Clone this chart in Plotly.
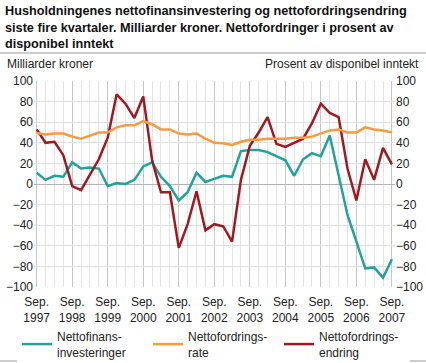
import plotly.graph_objects as go

quarters = list(range(41))  # Sep 1997 .. Sep 2007, quarterly
tick_pos = list(range(0, 41, 4))
tick_labels = [f"Sep.<br>{y}" for y in range(1997, 2008)]

nettofinans = [11, 4, 8, 7, 21, 15, 16, 15, -2, 1, 0, 4, 17, 21, 7, -2, -16, -8, 11, 2,
               5, 8, 7, 32, 33, 33, 31, 27, 23, 8, 24, 30, 27, 47, 10, -30, -56, -82, -81, -91, -73]
nettofordringsrate = [49.5, 48, 49, 49, 46, 44, 47, 50, 50, 55, 57, 57, 61, 58, 53, 53, 49, 48, 49, 44,
                      40, 39.5, 38, 41, 43, 43, 44, 44, 44, 45, 45, 46, 49, 52, 53, 50, 50, 55, 53, 52, 50]
nettofordringsendring = [53, 40, 41, 28, -2, -6, 9, 24, 45, 87, 78, 64, 85, 23, -8, -8, -62, -39, -7, -45,
                         -39, -41, -56, 4, 37, 50, 65, 39, 36, 40, 44, 59, 78, 69, 65, 15, -16, 24, 4, 35, 19]

names = ["Nettofinans-<br>investeringer", "Nettofordrings-<br>rate", "Nettofordrings-<br>endring"]
colors = ["#1fa39c", "#fa9a40", "#9e1a20"]

fig = go.Figure()
fig.add_trace(go.Scatter(x=quarters, y=nettofinans, name=names[0], mode="lines",
                         line=dict(color=colors[0], width=2.5)))
fig.add_trace(go.Scatter(x=quarters, y=nettofordringsrate, name=names[1], mode="lines",
                         line=dict(color=colors[1], width=2.5), yaxis="y2"))
fig.add_trace(go.Scatter(x=quarters, y=nettofordringsendring, name=names[2], mode="lines",
                         line=dict(color=colors[2], width=2.5)))

font = dict(family="Liberation Sans, Arial, sans-serif", size=12, color="#222222")
W, H = 426, 363
L, R, T, B = 34, 31, 81, 76
pw, ph = W - L - R, H - T - B

def px(xp):
    return (xp - L) / pw

def py(yp):
    return (H - B - yp) / ph

fig.update_layout(
    width=W, height=H,
    margin=dict(l=L, r=R, t=T, b=B, autoexpand=False),
    paper_bgcolor="white", plot_bgcolor="white",
    font=font,
    showlegend=True,
    legend=dict(orientation="h", x=px(17), y=py(322), xanchor="left", yanchor="top",
                font=dict(size=12), entrywidth=86, tracegroupgap=0, itemwidth=30),
    xaxis=dict(range=[-0.3, 40.35], tickvals=tick_pos, ticktext=tick_labels,
               showgrid=True, gridcolor="#c8c8c8", gridwidth=1, automargin=False,
               minor=dict(dtick=1, tick0=0, showgrid=True, gridcolor="#e4e4e4", gridwidth=1),
               zeroline=False, ticks="", showline=False, tickfont=dict(size=12),
               ticklabelstandoff=6),
    yaxis=dict(range=[-100, 100], dtick=20, showgrid=True, gridcolor="#e0e0e0", gridwidth=1,
               zeroline=True, zerolinecolor="#b4b4b4", zerolinewidth=1, automargin=False,
               ticks="", showline=False, tickfont=dict(size=12)),
    yaxis2=dict(range=[-100, 100], dtick=20, overlaying="y", side="right", showgrid=False,
                zeroline=False, ticks="", showline=False, tickfont=dict(size=12), automargin=False),
    annotations=[
        dict(text="<b>Husholdningenes nettofinansinvestering og nettofordringsendring<br>"
                  "siste fire kvartaler. Milliarder kroner. Nettofordringer i prosent av<br>"
                  "disponibel inntekt</b>",
             xref="paper", yref="paper", x=px(3), y=py(2), xanchor="left", yanchor="top",
             align="left", showarrow=False, font=dict(size=12.7, color="#111111")),
        dict(text="Milliarder kroner", xref="paper", yref="paper", x=px(5), y=py(64),
             xanchor="left", yanchor="middle", showarrow=False, font=dict(size=12)),
        dict(text="Prosent av disponibel inntekt", xref="paper", yref="paper", x=px(421), y=py(64),
             xanchor="right", yanchor="middle", showarrow=False, font=dict(size=12)),
    ],
    shapes=[
        dict(type="line", xref="paper", yref="paper", x0=px(0), x1=px(426), y0=py(53), y1=py(53),
             line=dict(color="#bbbbbb", width=1.5)),
        dict(type="line", xref="paper", yref="paper", x0=px(0), x1=px(426), y0=py(361), y1=py(361),
             line=dict(color="#bbbbbb", width=1.5)),
    ],
)

fig.write_html("out.html", config={"displayModeBar": False},
               post_script="document.body.style.margin='0';")
